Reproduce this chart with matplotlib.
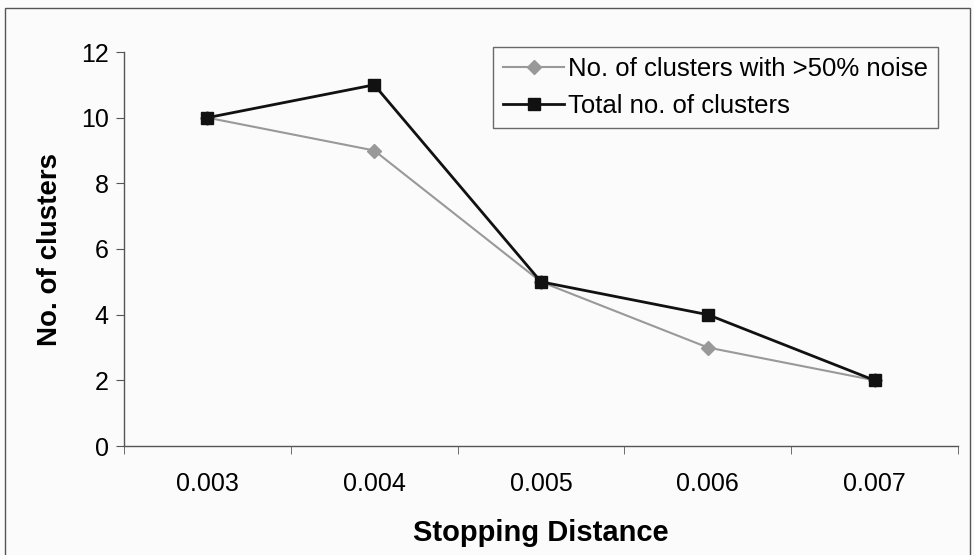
import matplotlib.pyplot as plt
import matplotlib.patches as mpatches

categories = ['0.003', '0.004', '0.005', '0.006', '0.007']
noisy_clusters = [10, 9, 5, 3, 2]
total_clusters = [10, 11, 5, 4, 2]

plt.rcParams['font.family'] = ['Liberation Sans', 'DejaVu Sans']

fig = plt.figure(figsize=(9.74, 5.55), dpi=100, facecolor='#fbfbfb')
ax = fig.add_axes([124 / 974, 1 - 446 / 555, 834 / 974, 394 / 555])
ax.set_facecolor('#fbfbfb')

# outer chart frame
fig.patches.append(mpatches.Rectangle((5 / 974, -0.01), 965 / 974, 1 - 8 / 555 + 0.01,
                                      transform=fig.transFigure, fill=False,
                                      edgecolor='#555555', linewidth=1.0))

x = list(range(len(categories)))
ax.plot(x, noisy_clusters, color='#999999', linewidth=1.5, marker='D', markersize=7,
        markerfacecolor='#999999', markeredgecolor='#999999',
        label='No. of clusters with >50% noise')
ax.plot(x, total_clusters, color='#111111', linewidth=2.0, marker='s', markersize=8,
        markerfacecolor='#111111', markeredgecolor='#111111',
        label='Total no. of clusters')

ax.set_xlim(-0.5, len(categories) - 0.5)
ax.set_ylim(0, 12)
ax.set_yticks(range(0, 13, 2))
ax.set_xticks(x)
ax.set_xticklabels(categories)
ax.set_xticks([i - 0.5 for i in range(len(categories) + 1)], minor=True)
ax.tick_params(axis='x', which='major', length=0, pad=19, labelsize=18)
ax.tick_params(axis='x', which='minor', length=6, color='#555555', direction='out')
ax.tick_params(axis='y', length=6, color='#555555', direction='out', labelsize=18, pad=5)

for side in ['top', 'right']:
    ax.spines[side].set_visible(False)
for side in ['left', 'bottom']:
    ax.spines[side].set_color('#555555')
    ax.spines[side].set_linewidth(1.0)

ax.set_xlabel('Stopping Distance', fontsize=21, fontweight='bold', labelpad=16)
ax.set_ylabel('No. of clusters', fontsize=20, fontweight='bold', labelpad=13)

leg = ax.legend(loc='upper right', bbox_to_anchor=(938 / 974, 1 - 47 / 555),
                bbox_transform=fig.transFigure, fontsize=18.5, frameon=True,
                fancybox=False, edgecolor='#444444', handlelength=2.4,
                handletextpad=0.15, borderpad=0.38, labelspacing=0.52,
                borderaxespad=0)
leg.get_frame().set_linewidth(1.0)
leg.get_frame().set_facecolor('#fbfbfb')

fig.savefig('out.png', dpi=100, facecolor=fig.get_facecolor())
